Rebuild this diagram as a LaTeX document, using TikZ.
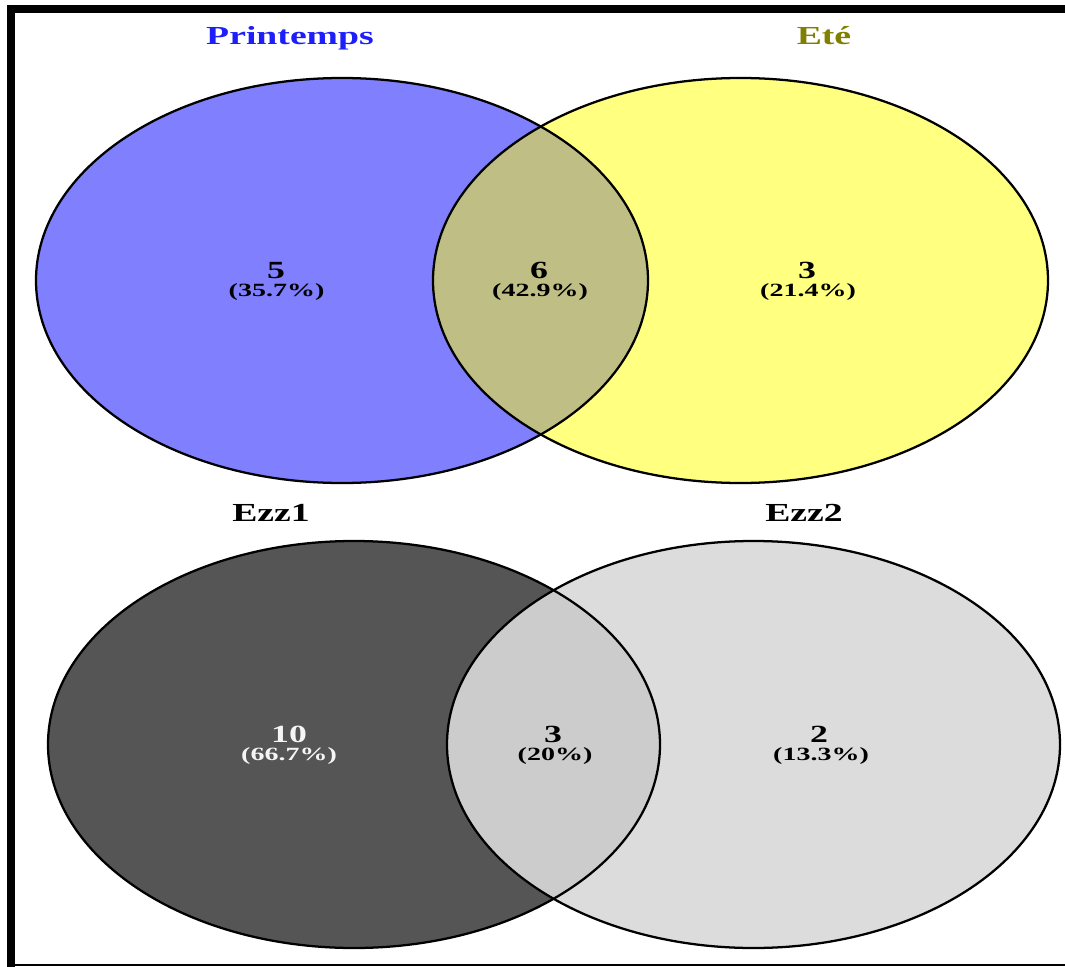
\documentclass[tikz,border=0pt]{standalone}
\usepackage{fontspec}
\setmainfont{Liberation Serif}
\begin{document}
\begin{tikzpicture}[x=0.75pt,y=0.75pt,yscale=-1,xscale=1,
    title/.style={inner sep=0.75pt,anchor=base,xscale=1.45,font=\fontsize{19.5}{22}\selectfont\bfseries},
    count/.style={inner sep=0.75pt,anchor=base,xscale=1.45,font=\fontsize{18.5}{20}\selectfont\bfseries},
    share/.style={inner sep=0.75pt,anchor=base,xscale=1.5,font=\fontsize{14}{16}\selectfont\bfseries}]
        \useasboundingbox (0,0) rectangle (1065,967);

        %Frame
        \draw [line width=6pt]  (11,967) -- (11,9) -- (1065,9) ;
        \draw [line width=1.5pt]  (7,965) -- (1065,965) ;

        %Shape: Ellipse [Printemps]
        \fill [fill={rgb, 255:red, 128; green, 128; blue, 255 }]  (342,280.5) ellipse (306 and 202.5) ;
        %Shape: Ellipse [Ete]
        \fill [fill={rgb, 255:red, 255; green, 255; blue, 128 }]  (740.5,280.5) ellipse (307.5 and 202.5) ;
        %Shape: Intersection
        \begin{scope}
        \clip (342,280.5) ellipse (306 and 202.5) ;
        \fill [fill={rgb, 255:red, 191; green, 191; blue, 133 }]  (740.5,280.5) ellipse (307.5 and 202.5) ;
        \end{scope}
        \draw [line width=1.7pt]  (342,280.5) ellipse (306 and 202.5) ;
        \draw [line width=1.7pt]  (740.5,280.5) ellipse (307.5 and 202.5) ;

        %Shape: Ellipse [Ezz1]
        \fill [fill={rgb, 255:red, 85; green, 85; blue, 85 }]  (354,744.5) ellipse (306 and 203.5) ;
        %Shape: Ellipse [Ezz2]
        \fill [fill={rgb, 255:red, 220; green, 220; blue, 220 }]  (753.5,744.5) ellipse (306.5 and 203.5) ;
        %Shape: Intersection
        \begin{scope}
        \clip (354,744.5) ellipse (306 and 203.5) ;
        \fill [fill={rgb, 255:red, 204; green, 204; blue, 204 }]  (753.5,744.5) ellipse (306.5 and 203.5) ;
        \end{scope}
        \draw [line width=1.7pt]  (354,744.5) ellipse (306 and 203.5) ;
        \draw [line width=1.7pt]  (753.5,744.5) ellipse (306.5 and 203.5) ;

        % Text Node
        \node (printemps) [title] [text={rgb, 255:red, 30; green, 30; blue, 250 }] at (290,45) {Printemps};
        % Text Node
        \node (ete) [title] [text={rgb, 255:red, 128; green, 128; blue, 0 }] at (824,45) {Eté};
        % Text Node
        \node (ezzone) [title] at (271,521) {Ezz1};
        % Text Node
        \node (ezztwo) [title] at (804,521) {Ezz2};

        % Text Node
        \node (nprint) [count] at (276,278) {5};
        \node (pprint) [share] at (276.5,296) {(35.7\%)};
        % Text Node
        \node (nboth) [count] at (539,278) {6};
        \node (pboth) [share] at (540,296) {(42.9\%)};
        % Text Node
        \node (nete) [count] at (807,278) {3};
        \node (pete) [share] at (808,296) {(21.4\%)};

        % Text Node
        \node (nezzone) [count] [text={rgb, 255:red, 245; green, 245; blue, 245 }] at (289,742) {10};
        \node (pezzone) [share] [text={rgb, 255:red, 245; green, 245; blue, 245 }] at (289,760) {(66.7\%)};
        % Text Node
        \node (nezzboth) [count] at (553,742) {3};
        \node (pezzboth) [share] at (555,760) {(20\%)};
        % Text Node
        \node (nezztwo) [count] at (819,742) {2};
        \node (pezztwo) [share] at (821,760) {(13.3\%)};

    \end{tikzpicture}
\end{document}
